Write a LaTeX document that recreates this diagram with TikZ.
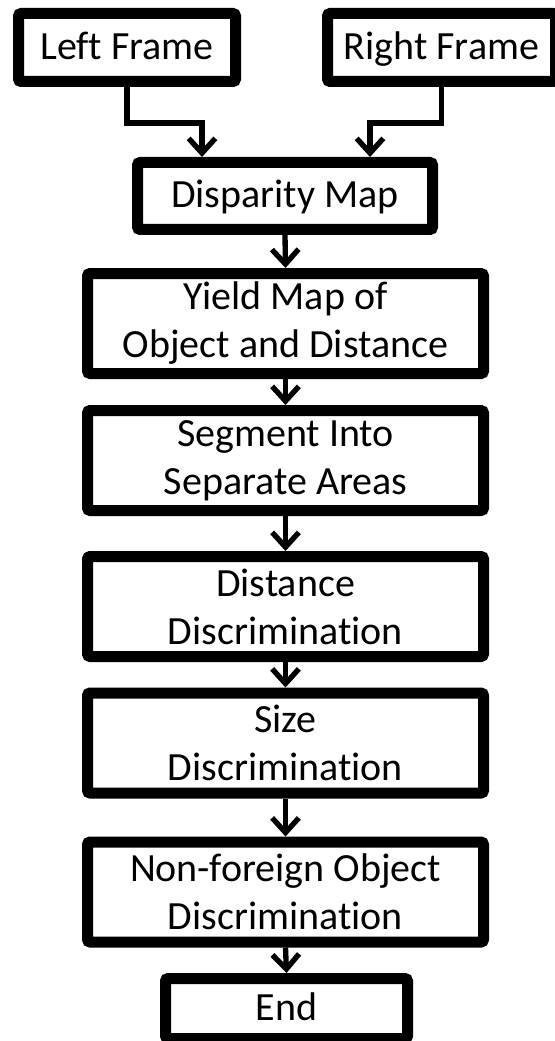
\documentclass[tikz,border=0pt]{standalone}
\usepackage{fontspec}
\setmainfont[Ligatures={NoCommon}]{Carlito}
\usetikzlibrary{arrows.meta,calc}
\tikzset{
  >={Straight Barb[length=11pt,width=20pt]},
}
\tikzstyle{stage}=[draw,line width=8.25pt,rounded corners=2pt,inner sep=0pt,align=center,font=\fontsize{30pt}{36pt}\selectfont]
\tikzstyle{single}=[stage,text height=23pt,text depth=5pt]
\tikzstyle{wide}=[stage,minimum width=297pt,minimum height=75pt]
\tikzstyle{flow}=[line width=4pt,->]

\begin{document}
\begin{tikzpicture}[x=0.75pt,y=0.75pt]
  \useasboundingbox (0,0) rectangle (554,-1041);
  % input frames
  \node[single,minimum width=162.75pt,minimum height=51pt] (lf) at (127,-47.5) {Left Frame};
  \node[single,minimum width=171pt,minimum height=51pt] (rf) at (441.5,-47.5) {Right Frame};
  \node[single,minimum width=221.25pt,minimum height=50.25pt] (dm) at (285,-196) {Disparity Map};
  % processing chain
  \node[wide] (ym) at (285.5,-323.5) {Yield Map of\\Object and Distance};
  \node[wide] (sg) at (285.5,-460.5) {Segment Into\\Separate Areas};
  \node[wide] (dd) at (285.5,-606.5) {Distance\\Discrimination};
  \node[wide] (sz) at (285.5,-743) {Size\\Discrimination};
  \node[wide] (nf) at (285.5,-892) {Non-foreign Object\\Discrimination};
  \node[single,minimum width=181.5pt,minimum height=45pt] (en) at (286.5,-1008.5) {End};

  \draw[flow] (lf.south) -- ++(0,-36) -| ($(dm.north)+(-83,0)$);
  \draw[flow] (rf.south) -- ++(0,-36) -| ($(dm.north)+(85,0)$);
  \draw[flow] (dm.south) -- (ym.north);
  \draw[flow] (ym.south) -- (sg.north);
  \draw[flow] (sg.south) -- (dd.north);
  \draw[flow] ([yshift=6pt]dd.south) -- (sz.north);
  \draw[flow] (sz.south) -- (nf.north);
  \draw[flow] (nf.south) -- (en.north);
\end{tikzpicture}
\end{document}
